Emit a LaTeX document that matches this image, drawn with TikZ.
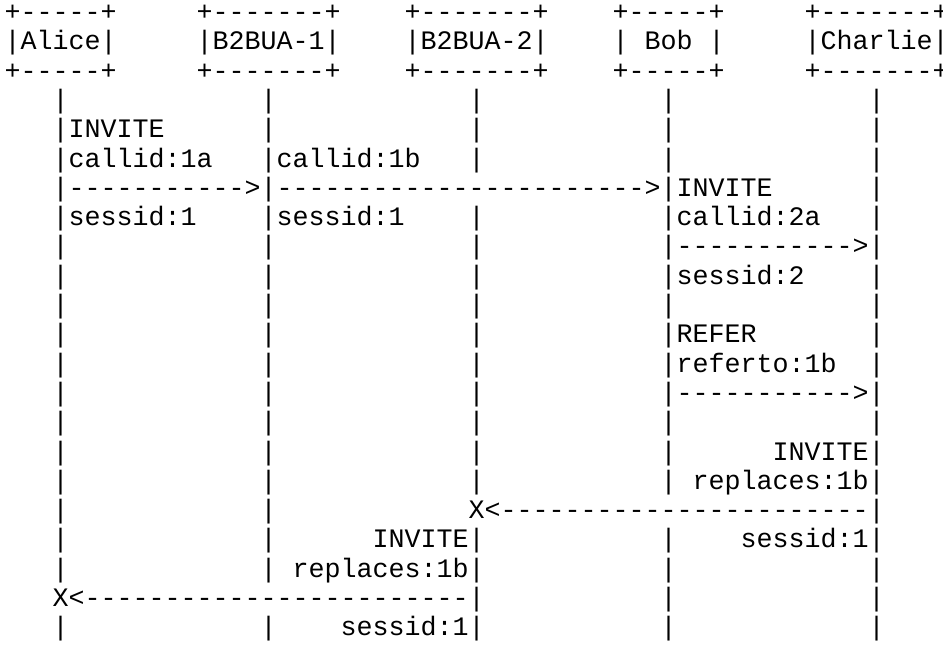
\documentclass[tikz,border=0pt]{standalone}
\usepackage{fontspec}
\setmonofont{Liberation Mono}
\tikzset{
  txt/.style={anchor=base west, inner sep=0pt, outer sep=0pt,
    font=\ttfamily\fontsize{20}{22}\selectfont, text=black}
}
\newcommand\tx[4]{\node[txt] (#1) at ({(3.5+12*#2)*1pt},{-(15.45+21.97*(#3-1))*1pt}) {#4};}
\newcommand\bars[2]{\foreach \c in {#2} {\tx{b#1-\c}{\c}{#1}{|}}}
\begin{document}
\begin{tikzpicture}
\fill[white] (0,0) rectangle (707.25pt,-484.5pt);
\useasboundingbox (0,0) rectangle (707.25pt,-484.5pt);
% header boxes
\tx{aliceT}{0}{1}{+-----+}
\tx{bua1T}{12}{1}{+-------+}
\tx{bua2T}{25}{1}{+-------+}
\tx{bobT}{38}{1}{+-----+}
\tx{charT}{50}{1}{+-------+}
\tx{alice}{0}{2}{|Alice|}
\tx{bua1}{12}{2}{|B2BUA-1|}
\tx{bua2}{25}{2}{|B2BUA-2|}
\tx{bob}{38}{2}{|}
\tx{bobname}{40}{2}{Bob}
\tx{bobr}{44}{2}{|}
\tx{charlie}{50}{2}{|Charlie|}
\tx{aliceB}{0}{3}{+-----+}
\tx{bua1B}{12}{3}{+-------+}
\tx{bua2B}{25}{3}{+-------+}
\tx{bobB}{38}{3}{+-----+}
\tx{charB}{50}{3}{+-------+}
% row 4
\bars{4}{3,16,29,41,54}
% row 5
\tx{inv1}{3}{5}{|INVITE}
\bars{5}{16,29,41,54}
% row 6
\tx{cid1a}{3}{6}{|callid:1a}
\tx{cid1b}{16}{6}{|callid:1b}
\bars{6}{29,41,54}
% row 7
\tx{arr1}{3}{7}{|----------->|----------------------->|INVITE}
\bars{7}{54}
% row 8
\tx{sid1a}{3}{8}{|sessid:1}
\tx{sid1b}{16}{8}{|sessid:1}
\bars{8}{29}
\tx{cid2a}{41}{8}{|callid:2a}
\bars{8}{54}
% row 9
\bars{9}{3,16,29}
\tx{arr2}{41}{9}{|----------->|}
% row 10
\bars{10}{3,16,29}
\tx{sid2}{41}{10}{|sessid:2}
\bars{10}{54}
% row 11
\bars{11}{3,16,29,41,54}
% row 12
\bars{12}{3,16,29}
\tx{refer}{41}{12}{|REFER}
\bars{12}{54}
% row 13
\bars{13}{3,16,29}
\tx{referto}{41}{13}{|referto:1b}
\bars{13}{54}
% row 14
\bars{14}{3,16,29}
\tx{arr3}{41}{14}{|----------->|}
% row 15
\bars{15}{3,16,29,41,54}
% row 16
\bars{16}{3,16,29,41}
\tx{inv3}{48}{16}{INVITE|}
% row 17
\bars{17}{3,16,29,41}
\tx{rep1}{43}{17}{replaces:1b|}
% row 18
\bars{18}{3,16}
\tx{arr4}{29}{18}{X<-----------------------|}
% row 19
\bars{19}{3,16}
\tx{inv4}{23}{19}{INVITE|}
\bars{19}{41}
\tx{sid3}{46}{19}{sessid:1|}
% row 20
\bars{20}{3,16}
\tx{rep2}{18}{20}{replaces:1b|}
\bars{20}{41,54}
% row 21
\tx{arr5}{3}{21}{X<------------------------|}
\bars{21}{41,54}
% row 22
\bars{22}{3,16}
\tx{sid4}{21}{22}{sessid:1|}
\bars{22}{41,54}
\end{tikzpicture}
\end{document}
